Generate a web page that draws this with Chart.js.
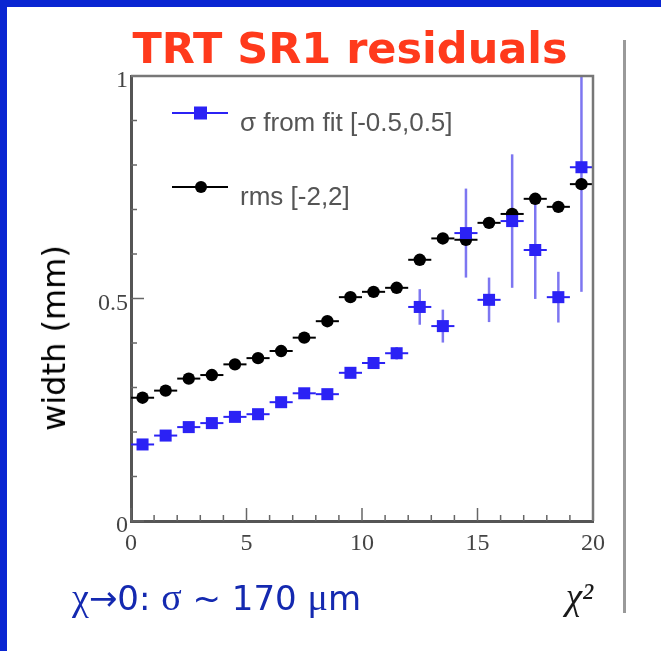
<!DOCTYPE html>
<html><head><meta charset="utf-8">
<script src="https://cdn.jsdelivr.net/npm/chart.js@4/dist/chart.umd.min.js"></script>
<style>
html,body{margin:0;padding:0;background:#fff;}
#wrap{position:relative;width:661px;height:651px;overflow:hidden;background:#fff;}
#bt{position:absolute;left:0;top:0;width:661px;height:7px;background:#0a26d2;}
#bl{position:absolute;left:0;top:0;width:7px;height:651px;background:#0a26d2;}
#vline{position:absolute;left:623px;top:40px;width:3px;height:573px;background:#9a9a9a;}
canvas{position:absolute;left:0;top:0;}
#title{position:absolute;left:50px;width:600px;top:27px;text-align:center;font:bold 43px 'DejaVu Sans',sans-serif;line-height:43px;color:#ff3a1c;white-space:nowrap;}
#ylab{position:absolute;left:54px;top:338px;transform:translate(-50%,-50%) rotate(-90deg);font:32px 'DejaVu Sans',sans-serif;color:#000;white-space:nowrap;line-height:1;}
#note{position:absolute;left:72px;top:578px;font:34px 'DejaVu Sans',sans-serif;color:#1429b0;white-space:nowrap;line-height:38px;}
#note .s{font-family:'Liberation Serif','DejaVu Serif',serif;font-size:38px;}
</style></head>
<body>
<div id="wrap">
  <canvas id="c" width="661" height="651"></canvas>
  <div id="bt"></div><div id="bl"></div><div id="vline"></div>
  <div id="title">TRT SR1 residuals</div>
  <div id="ylab">width (mm)</div>
  <div id="note"><span class="s">χ</span>→0: <span class="s">σ</span> ~ 170 <span class="s">μ</span>m</div>
</div>
<script>
// ---- data ----
const xCenters   = [0.5,1.5,2.5,3.5,4.5,5.5,6.5,7.5,8.5,9.5,10.5,11.5,12.5,13.5,14.5,15.5,16.5,17.5,18.5,19.5];
const binHalf    = 0.5;
const sigmaFit   = [0.172,0.192,0.211,0.220,0.234,0.240,0.267,0.287,0.285,0.333,0.355,0.377,0.481,0.438,0.647,0.497,0.674,0.609,0.503,0.795];
const sigmaErr   = [0.008,0.008,0.008,0.008,0.008,0.008,0.009,0.009,0.010,0.012,0.012,0.014,0.040,0.037,0.100,0.050,0.150,0.110,0.057,0.280];
const rmsVals    = [0.277,0.293,0.320,0.328,0.352,0.366,0.382,0.412,0.449,0.503,0.515,0.524,0.587,0.635,0.632,0.670,0.690,0.724,0.706,0.757];
const rmsErr     = [0.004,0.004,0.004,0.004,0.004,0.004,0.004,0.004,0.004,0.004,0.004,0.004,0.005,0.005,0.005,0.005,0.005,0.005,0.005,0.006];
const xTickLabels = ['0','5','10','15','20'];
const xTickValues = [0,5,10,15,20];
const yTickLabels = ['0','0.5','1'];
const yTickValues = [0,0.5,1];
const seriesNames = ['σ from fit [-0.5,0.5]','rms [-2,2]'];

const BLUE='#2b22f5', BLACK='#000';

const errorBars = {
  id:'errorBars',
  beforeDatasetsDraw(chart){
    const {ctx, chartArea:a, scales:{x,y}} = chart;
    ctx.save();
    ctx.beginPath(); ctx.rect(a.left,a.top,a.right-a.left,a.bottom-a.top); ctx.clip();
    chart.data.datasets.forEach(ds=>{
      ds.data.forEach((p,i)=>{
        const e = ds.errors[i];
        const px=x.getPixelForValue(p.x), py=y.getPixelForValue(p.y);
        ctx.strokeStyle = ds.errColor; ctx.lineWidth = 2.5;
        ctx.beginPath();
        ctx.moveTo(px, y.getPixelForValue(p.y-e)); ctx.lineTo(px, y.getPixelForValue(p.y+e));
        ctx.stroke();
        ctx.strokeStyle = ds.borderColor; ctx.lineWidth = 2;
        ctx.beginPath();
        ctx.moveTo(x.getPixelForValue(p.x-binHalf), py); ctx.lineTo(x.getPixelForValue(p.x+binHalf), py);
        ctx.stroke();
      });
    });
    ctx.restore();
  }
};

const frameTicks = {
  id:'frameTicks',
  afterDatasetsDraw(chart){
    const {ctx, chartArea:a, scales:{x,y}} = chart;
    ctx.save();
    ctx.strokeStyle='#666'; ctx.lineWidth=1.5;
    for(let v=0; v<=20; v++){
      const px=x.getPixelForValue(v), len=(v%5===0)?13:6;
      ctx.beginPath(); ctx.moveTo(px,a.bottom); ctx.lineTo(px,a.bottom-len); ctx.stroke();
    }
    for(let k=0;k<=10;k++){
      const py=y.getPixelForValue(k/10), len=(k%5===0)?13:6;
      ctx.beginPath(); ctx.moveTo(a.left,py); ctx.lineTo(a.left+len,py); ctx.stroke();
    }
    ctx.strokeStyle='#777'; ctx.lineWidth=2.5;
    ctx.beginPath(); ctx.moveTo(a.left,a.top); ctx.lineTo(a.right,a.top); ctx.lineTo(a.right,a.bottom); ctx.stroke();
    ctx.restore();
  }
};

const innerLegend = {
  id:'innerLegend',
  afterDraw(chart){
    const {ctx} = chart;
    const rows=[{line:113, base:131},{line:187, base:205}];
    ctx.save();
    chart.data.datasets.forEach((ds,i)=>{
      const r=rows[i];
      ctx.strokeStyle=ds.borderColor; ctx.lineWidth=2;
      ctx.beginPath(); ctx.moveTo(172,r.line); ctx.lineTo(228,r.line); ctx.stroke();
      ctx.fillStyle=ds.backgroundColor;
      if(ds.pointStyle==='rect'){ ctx.fillRect(194,r.line-6.5,13,13); }
      else { ctx.beginPath(); ctx.arc(201,r.line,6,0,Math.PI*2); ctx.fill(); }
      ctx.fillStyle='#555'; ctx.font="26px 'Liberation Sans', Arial, sans-serif";
      ctx.textBaseline='alphabetic'; ctx.textAlign='left';
      ctx.fillText(ds.label, 240, r.base);
    });
    ctx.restore();
  }
};

new Chart(document.getElementById('c'), {
  type:'scatter',
  data:{
    datasets:[
      {label:seriesNames[0], data:xCenters.map((x,i)=>({x, y:sigmaFit[i]})), errors:sigmaErr, errColor:'rgba(70,60,235,0.7)',
       pointStyle:'rect', pointRadius:8.5, pointHoverRadius:8.5, backgroundColor:BLUE, borderColor:BLUE, borderWidth:0},
      {label:seriesNames[1], data:xCenters.map((x,i)=>({x, y:rmsVals[i]})), errors:rmsErr, errColor:BLACK,
       pointStyle:'circle', pointRadius:6.2, pointHoverRadius:6.2, backgroundColor:BLACK, borderColor:BLACK, borderWidth:0}
    ]
  },
  options:{
    responsive:false, animation:false, devicePixelRatio:1,
    layout:{padding:{left:71, top:76, right:68, bottom:30}},
    plugins:{legend:{display:false}, tooltip:{enabled:false}, title:{display:false}},
    scales:{
      x:{type:'linear', min:0, max:20,
         afterFit:s=>{s.height=100;},
         grid:{display:false, drawTicks:false},
         border:{display:true, color:'#555', width:3},
         ticks:{stepSize:5, maxRotation:0, autoSkip:false, padding:8, color:'#444',
                font:{family:"'Liberation Serif', serif", size:24},
                callback:v=>{const k=xTickValues.indexOf(v); return k>=0?xTickLabels[k]:'';}},
         title:{display:true, text:'χ²', align:'end', color:'#1a1a1a', padding:{top:0,bottom:0},
                font:{family:"'Liberation Serif', serif", style:'italic', size:37}}
      },
      y:{type:'linear', min:0, max:1,
         afterFit:s=>{s.width=60;},
         grid:{display:false, drawTicks:false},
         border:{display:true, color:'#555', width:3},
         ticks:{stepSize:0.5, padding:3, labelOffset:5, color:'#444',
                font:{family:"'Liberation Serif', serif", size:24},
                callback:v=>{const k=yTickValues.indexOf(v); return k>=0?yTickLabels[k]:'';}}
      }
    }
  },
  plugins:[errorBars, frameTicks, innerLegend]
});
</script>
</body></html>
